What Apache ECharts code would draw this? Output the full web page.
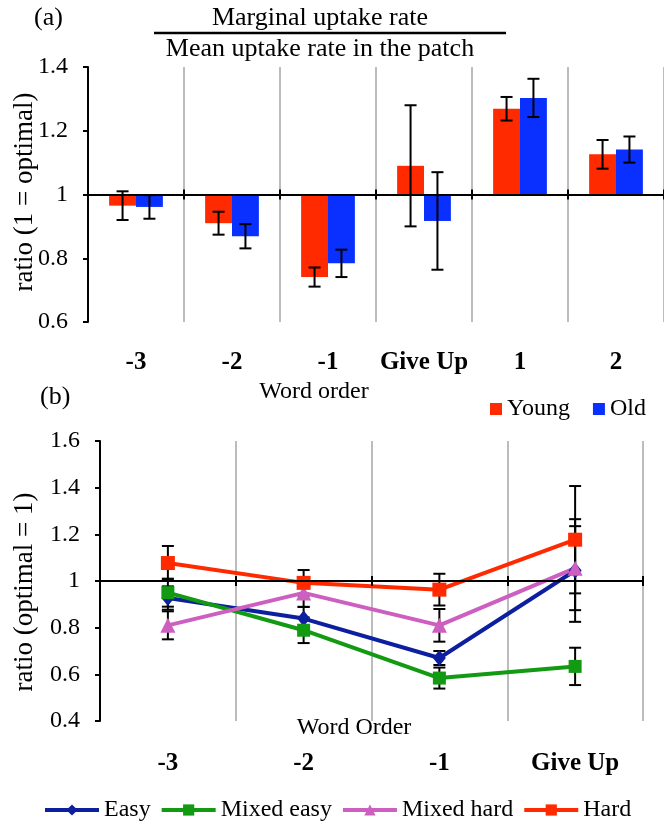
<!DOCTYPE html>
<html>
<head>
<meta charset="utf-8">
<script src="https://cdn.jsdelivr.net/npm/echarts@6/dist/echarts.min.js"></script>
<style>
  html, body { margin: 0; padding: 0; background: #fff; }
  #chart { width: 664px; height: 822px; }
</style>
</head>
<body>
<div id="chart"></div>
<script>
// panel (a): ratio per word order, young vs old
var barCategories = ['-3', '-2', '-1', 'Give Up', '1', '2'];
var youngRatio = [0.965, 0.910, 0.741, 1.090, 1.269, 1.126];
var youngErr   = [0.045, 0.036, 0.030, 0.190, 0.037, 0.045];
var oldRatio   = [0.961, 0.869, 0.784, 0.917, 1.303, 1.141];
var oldErr     = [0.037, 0.038, 0.043, 0.153, 0.060, 0.041];

// panel (b): ratio per word order, by difficulty
var lineCategories = ['-3', '-2', '-1', 'Give Up'];
var easy         = [0.927, 0.839, 0.670, 1.045];
var easyErr      = [0.050, 0.050, 0.030, 0.220];
var mixedEasy    = [0.950, 0.789, 0.584, 0.634];
var mixedEasyErr = [0.060, 0.055, 0.045, 0.080];
var mixedHard    = [0.810, 0.949, 0.810, 1.055];
var mixedHardErr = [0.060, 0.060, 0.070, 0.180];
var hard         = [1.077, 0.992, 0.963, 1.177];
var hardErr      = [0.073, 0.055, 0.068, 0.230];

var serif = 'Liberation Serif';
var red = '#ff2a00', blue = '#0a30ff';

function triples(vals, errs) {
    return vals.map(function (v, i) { return [i, v, errs[i]]; });
}

// bar from 1 (optimal) to value, plus error bar
function barItem(side) {
    return function (params, api) {
        var i = api.value(0), v = api.value(1), e = api.value(2);
        var band = api.size([1, 0])[0];
        var w = band * 0.28;
        var base = api.coord([i, 1]);
        var top = api.coord([i, v]);
        var cx = base[0] + side * w / 2;
        var hi = api.coord([i, v + e])[1];
        var lo = api.coord([i, v - e])[1];
        var cap = 6;
        var ls = { stroke: '#000', lineWidth: 2 };
        return {
            type: 'group',
            children: [
                { type: 'rect', shape: { x: cx - w / 2, y: Math.min(base[1], top[1]), width: w, height: Math.abs(base[1] - top[1]) }, style: { fill: api.visual('color') } },
                { type: 'line', shape: { x1: cx, y1: hi, x2: cx, y2: lo }, style: ls },
                { type: 'line', shape: { x1: cx - cap, y1: hi, x2: cx + cap, y2: hi }, style: ls },
                { type: 'line', shape: { x1: cx - cap, y1: lo, x2: cx + cap, y2: lo }, style: ls }
            ]
        };
    };
}

function errItem(params, api) {
    var i = api.value(0), v = api.value(1), e = api.value(2);
    var hi = api.coord([i, v + e]);
    var lo = api.coord([i, v - e]);
    var cap = 6;
    var ls = { stroke: '#000', lineWidth: 2 };
    return {
        type: 'group',
        children: [
            { type: 'line', shape: { x1: hi[0], y1: hi[1], x2: lo[0], y2: lo[1] }, style: ls },
            { type: 'line', shape: { x1: hi[0] - cap, y1: hi[1], x2: hi[0] + cap, y2: hi[1] }, style: ls },
            { type: 'line', shape: { x1: lo[0] - cap, y1: lo[1], x2: lo[0] + cap, y2: lo[1] }, style: ls }
        ]
    };
}

function labelAxis(grid, data, margin) {
    return {
        gridIndex: grid, type: 'category', data: data, position: 'bottom',
        axisLine: { show: false }, axisTick: { show: false },
        axisLabel: { interval: 0, margin: margin, fontSize: 25, fontWeight: 'bold', color: '#000', fontFamily: serif },
        splitLine: { show: true, lineStyle: { color: '#a6a6a6', width: 1.5 } }
    };
}
// axis line drawn at ratio = 1
function oneAxis(grid, data, offset, inside, showLine) {
    return {
        gridIndex: grid, type: 'category', data: data, position: 'bottom', offset: offset, z: 10,
        axisLine: { show: showLine, onZero: false, lineStyle: { color: '#000', width: 2 } },
        axisTick: { show: true, inside: inside, length: 5, lineStyle: { color: '#000', width: 2 } },
        axisLabel: { show: false }, splitLine: { show: false }
    };
}
function valAxis(grid, min, max) {
    return {
        gridIndex: grid, type: 'value', min: min, max: max, interval: 0.2,
        axisLine: { show: true, lineStyle: { color: '#000', width: 2 } },
        axisTick: { show: true, length: 5, lineStyle: { color: '#000', width: 2 } },
        axisLabel: { margin: 20, fontSize: 24, color: '#000', fontFamily: serif },
        splitLine: { show: false }
    };
}

function lineSeries(name, vals, color, symbol, size) {
    return {
        name: name, type: 'line', xAxisIndex: 3, yAxisIndex: 1, data: vals,
        symbol: symbol, symbolSize: size, z: 4,
        lineStyle: { color: color, width: 4 }, itemStyle: { color: color }
    };
}
function errSeries(name, vals, errs) {
    return {
        name: name, type: 'custom', xAxisIndex: 3, yAxisIndex: 1, z: 3,
        data: triples(vals, errs), encode: { x: 0, y: 1 }, renderItem: errItem
    };
}

function txt(x, y, text, size, align, rot) {
    return {
        type: 'text', x: x, y: y, rotation: rot || 0,
        style: { text: text, fontSize: size, fontFamily: serif, fill: '#000', align: align || 'center', verticalAlign: 'middle' }
    };
}

var chart = echarts.init(document.getElementById('chart'));
var option = {
    animation: false,
    backgroundColor: '#fff',
    textStyle: { fontFamily: serif },
    grid: [
        { left: 88, right: 0, top: 67, height: 255 },
        { left: 100, right: 21, top: 441, height: 280 }
    ],
    xAxis: [
        labelAxis(0, barCategories, 28),
        oneAxis(0, barCategories, -127.5, true, true),
        oneAxis(0, barCategories, -127.5, false, false),
        labelAxis(1, lineCategories, 30),
        oneAxis(1, lineCategories, -140, true, true),
        oneAxis(1, lineCategories, -140, false, false)
    ],
    yAxis: [valAxis(0, 0.6, 1.4), valAxis(1, 0.4, 1.6)],
    legend: [
        {
            data: ['Young', 'Old'], left: 485, top: 392, icon: 'rect',
            itemWidth: 12, itemHeight: 12, itemGap: 23,
            textStyle: { fontSize: 24, color: '#000', fontFamily: serif }
        },
        {
            data: ['Easy', 'Mixed easy', 'Mixed hard', 'Hard'], left: 38, top: 793,
            itemWidth: 54, itemHeight: 14, itemGap: 9,
            lineStyle: { width: 4 },
            textStyle: { fontSize: 24, color: '#000', fontFamily: serif }
        }
    ],
    graphic: [
        txt(34, 18, '(a)', 26, 'left'),
        txt(320, 18, 'Marginal uptake rate', 26),
        { type: 'line', shape: { x1: 154, y1: 33, x2: 506, y2: 33 }, style: { stroke: '#000', lineWidth: 2.5 } },
        txt(320, 49, 'Mean uptake rate in the patch', 26),
        txt(25, 192, 'ratio (1 = optimal)', 27, 'center', Math.PI / 2),
        txt(314, 392, 'Word order', 24),
        txt(40, 397, '(b)', 26, 'left'),
        txt(25, 592, 'ratio (optimal = 1)', 27, 'center', Math.PI / 2),
        txt(354, 728, 'Word Order', 24)
    ],
    series: [
        {
            name: 'Young', type: 'custom', xAxisIndex: 0, yAxisIndex: 0,
            itemStyle: { color: red }, data: triples(youngRatio, youngErr),
            encode: { x: 0, y: 1 }, renderItem: barItem(-1)
        },
        {
            name: 'Old', type: 'custom', xAxisIndex: 0, yAxisIndex: 0,
            itemStyle: { color: blue }, data: triples(oldRatio, oldErr),
            encode: { x: 0, y: 1 }, renderItem: barItem(1)
        },
        lineSeries('Easy', easy, '#0c1f9e', 'diamond', [13, 16]),
        lineSeries('Mixed easy', mixedEasy, '#129a12', 'rect', 13),
        lineSeries('Mixed hard', mixedHard, '#cc5fbf', 'triangle', 15),
        lineSeries('Hard', hard, '#ff2a00', 'rect', 14),
        errSeries('Easy err', easy, easyErr),
        errSeries('Mixed easy err', mixedEasy, mixedEasyErr),
        errSeries('Mixed hard err', mixedHard, mixedHardErr),
        errSeries('Hard err', hard, hardErr)
    ]
};
chart.setOption(option);
</script>
</body>
</html>
